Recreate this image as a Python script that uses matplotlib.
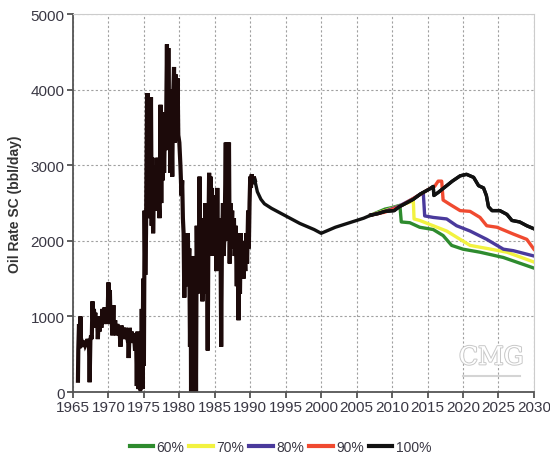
import matplotlib
matplotlib.use("Agg")
import matplotlib.pyplot as plt
import matplotlib.patheffects as pe

plt.rcParams['font.family'] = ['Liberation Sans', 'DejaVu Sans']

# Historical monthly-ish oil rate (bbl/day)
hist_years = [
    1965.70, 1965.75, 1965.85, 1965.95, 1966.05, 1966.15, 1966.30, 1966.45, 1966.60, 1966.75,
    1966.90, 1967.05, 1967.15, 1967.25, 1967.35, 1967.45, 1967.55, 1967.65, 1967.75, 1967.85,
    1967.95, 1968.05, 1968.15, 1968.25, 1968.40, 1968.50, 1968.60, 1968.75, 1968.90, 1969.00,
    1969.15, 1969.30, 1969.45, 1969.60, 1969.75, 1969.85, 1970.00, 1970.10, 1970.20, 1970.30,
    1970.45, 1970.55, 1970.70, 1970.80, 1970.95, 1971.10, 1971.25, 1971.40, 1971.55, 1971.70,
    1971.85, 1972.00, 1972.15, 1972.30, 1972.45, 1972.60, 1972.75, 1972.85, 1973.00, 1973.15,
    1973.30, 1973.45, 1973.60, 1973.75, 1973.90, 1974.00, 1974.10, 1974.20, 1974.35, 1974.50,
    1974.60, 1974.70, 1974.80, 1974.90, 1975.00, 1975.10, 1975.20, 1975.30, 1975.45, 1975.50,
    1975.55, 1975.65, 1975.75, 1975.85, 1976.00, 1976.10, 1976.20, 1976.30, 1976.45, 1976.55,
    1976.65, 1976.75, 1976.90, 1977.00, 1977.10, 1977.20, 1977.35, 1977.45, 1977.55, 1977.65,
    1977.75, 1977.85, 1978.00, 1978.10, 1978.25, 1978.35, 1978.45, 1978.55, 1978.65, 1978.75,
    1978.85, 1979.00, 1979.10, 1979.25, 1979.35, 1979.50, 1979.60, 1979.75, 1979.85, 1980.00,
    1980.15, 1980.30, 1980.40, 1980.50, 1980.60, 1980.70, 1980.80, 1980.90, 1981.00, 1981.10,
    1981.20, 1981.30, 1981.40, 1981.50, 1981.60, 1981.65, 1981.75, 1981.85, 1981.95, 1982.05,
    1982.15, 1982.25, 1982.35, 1982.45, 1982.55, 1982.65, 1982.75, 1982.85, 1982.95, 1983.05,
    1983.15, 1983.25, 1983.40, 1983.50, 1983.65, 1983.75, 1983.85, 1984.00, 1984.10, 1984.20,
    1984.30, 1984.40, 1984.50, 1984.60, 1984.70, 1984.80, 1984.95, 1985.10, 1985.20, 1985.35,
    1985.45, 1985.55, 1985.65, 1985.80, 1985.90, 1986.00, 1986.15, 1986.25, 1986.40, 1986.55,
    1986.65, 1986.75, 1986.85, 1987.00, 1987.10, 1987.20, 1987.30, 1987.45, 1987.55, 1987.70,
    1987.80, 1987.95, 1988.10, 1988.20, 1988.35, 1988.45, 1988.55, 1988.65, 1988.80, 1988.90,
    1989.05, 1989.15, 1989.30, 1989.45, 1989.55, 1989.70, 1989.80, 1989.90, 1990.00, 1990.10,
    1990.20, 1990.35, 1990.50, 1990.65,
]
hist_rate = [
    150, 560, 900, 580, 1000, 600, 650, 600, 680, 620,
    650, 700, 650, 700, 130, 680, 750, 700, 1200, 900,
    1100, 950, 1050, 850, 1000, 700, 900, 800, 1000, 850,
    1100, 900, 1120, 950, 1000, 900, 1450, 950, 1350, 900,
    1000, 750, 1150, 800, 950, 750, 900, 800, 850, 600,
    880, 750, 850, 700, 850, 760, 800, 450, 850, 700,
    800, 650, 780, 550, 750, 80, 800, 40, 100, 30,
    60, 1100, 40, 1500, 350, 2400, 1550, 2100, 3950, 2300,
    3950, 2500, 3900, 2600, 3900, 2200, 3100, 2100, 2900, 2400,
    3000, 2500, 3100, 2400, 2600, 2300, 3800, 2500, 3700, 2800,
    3600, 2900, 3700, 3200, 4600, 3300, 4550, 3400, 4000, 2900,
    3700, 2850, 3800, 4300, 3300, 4200, 3500, 4150, 3400, 3300,
    3000, 2600, 2800, 2300, 2100, 1250, 2000, 1400, 1900, 1600,
    2100, 1500, 1900, 600, 1800, 0, 1700, 0, 1500, 0,
    200, 1800, 0, 2200, 1300, 2000, 1500, 2850, 1800, 1500,
    2300, 1200, 2000, 1300, 2500, 1700, 2400, 550, 2100, 2900,
    2200, 2850, 2000, 2700, 1800, 2600, 1900, 2600, 1600, 2700,
    2000, 2300, 1700, 2100, 600, 1900, 2500, 1800, 2200, 3300,
    2000, 3300, 2400, 3300, 1700, 2500, 2000, 2400, 1900, 2300,
    1800, 2200, 1400, 2100, 950, 2000, 1300, 2100, 1600, 2000,
    1500, 1900, 1600, 2100, 1700, 2400, 1900, 2500, 2850, 2700,
    2880, 2750, 2850, 2800,
]

# Common forecast trunk (decline then recovery)
trunk_years = [1990.65, 1991.0, 1991.5, 1992.0, 1993.0, 1994.0, 1995.0, 1996.0, 1997.0,
               1998.0, 1999.0, 2000.0, 2001.0, 2002.0, 2003.0, 2004.0, 2005.0, 2006.0, 2007.0]
trunk_rate = [2800, 2650, 2550, 2490, 2430, 2380, 2330, 2280, 2230,
              2190, 2150, 2100, 2140, 2180, 2210, 2240, 2270, 2300, 2340]

# Scenario forecasts after the trunk
s60_years = [2007.0, 2008.0, 2009.0, 2010.0, 2011.1, 2011.3, 2012.5, 2013.9, 2015.8,
             2017.2, 2018.4, 2020.0, 2022.4, 2025.7, 2030.0]
s60_rate = [2340, 2380, 2420, 2440, 2470, 2250, 2240, 2180, 2150,
            2070, 1940, 1890, 1850, 1780, 1640]

s70_years = [2007.0, 2009.0, 2011.0, 2013.0, 2013.1, 2013.9, 2015.8, 2017.7, 2019.6,
             2021.0, 2023.35, 2026.2, 2030.0]
s70_rate = [2340, 2400, 2460, 2530, 2290, 2270, 2200, 2130, 2020,
            1940, 1900, 1850, 1720]

s80_years = [2007.0, 2009.0, 2011.0, 2013.0, 2014.4, 2014.6, 2015.8, 2017.7, 2019.1,
             2021.0, 2023.35, 2025.7, 2027.1, 2030.0]
s80_rate = [2340, 2390, 2460, 2560, 2640, 2330, 2310, 2290, 2200,
            2130, 2020, 1890, 1870, 1800]

s90_years = [2007.0, 2009.0, 2011.0, 2013.0, 2015.3, 2016.0, 2016.5, 2017.0, 2017.2,
             2018.2, 2019.6, 2021.0, 2022.4, 2023.35, 2024.8, 2027.1, 2029.0, 2030.0]
s90_rate = [2340, 2380, 2450, 2560, 2690, 2720, 2790, 2790, 2540,
            2480, 2400, 2390, 2310, 2200, 2180, 2090, 2020, 1890]

s100_years = [2007.0, 2008.0, 2009.0, 2010.3, 2011.0, 2012.0, 2013.0, 2014.0, 2015.35,
              2015.8, 2015.9, 2016.5, 2017.7, 2018.5, 2019.6, 2020.5, 2021.5, 2022.2,
              2022.9, 2023.3, 2023.6, 2024.1, 2025.2, 2026.2, 2026.9, 2028.0, 2029.0, 2030.0]
s100_rate = [2340, 2360, 2390, 2400, 2450, 2500, 2550, 2620, 2690,
             2720, 2600, 2640, 2730, 2790, 2860, 2880, 2840, 2730,
             2700, 2600, 2450, 2400, 2400, 2350, 2270, 2250, 2200, 2160]

scenario_labels = ['60%', '70%', '80%', '90%', '100%']
scenario_colors = ['#2e8b2e', '#f2f240', '#4a3a9c', '#f04a30', '#111111']

x_ticks = list(range(1965, 2031, 5))
y_ticks = [0, 1000, 2000, 3000, 4000, 5000]

fig = plt.figure(figsize=(5.5, 4.56), dpi=100)
ax = fig.add_axes([0.1327, 0.138, 0.838, 0.829])

ax.set_xlim(1965, 2030)
ax.set_ylim(0, 5000)

ax.grid(True, color='#a0a0a0', linestyle=(0, (2, 2)), linewidth=0.8)
ax.set_axisbelow(True)

lw = 2.4
ax.plot(hist_years, hist_rate, color='#1c0a0a', linewidth=3.0, solid_joinstyle='miter')

scen = [(s60_years, s60_rate), (s70_years, s70_rate), (s80_years, s80_rate),
        (s90_years, s90_rate), (s100_years, s100_rate)]
handles = []
for (yrs, vals), lab, col in zip(scen, scenario_labels, scenario_colors):
    h, = ax.plot(yrs, vals, color=col, linewidth=lw, label=lab)
    handles.append(h)
ax.plot(trunk_years, trunk_rate, color='#111111', linewidth=lw)
ax.plot(s100_years, s100_rate, color='#111111', linewidth=lw)

ax.set_xticks(x_ticks)
ax.set_yticks(y_ticks)
ax.tick_params(axis='both', direction='out', length=4, width=1.2, color='#444444',
               labelsize=11, labelcolor='#3a3844', pad=2)

for s in ['top', 'right']:
    ax.spines[s].set_color('#cccccc')
    ax.spines[s].set_linewidth(0.8)
for s in ['left', 'bottom']:
    ax.spines[s].set_color('#555555')
    ax.spines[s].set_linewidth(1.3)

ax.set_ylabel('Oil Rate SC (bbl/day)', fontsize=10, fontweight='bold', color='#333333', labelpad=6)

# CMG logo
ax.text(2024.0, 300, 'CMG', fontsize=18, color='white', ha='center', va='bottom',
        fontfamily='DejaVu Serif', zorder=1,
        path_effects=[pe.withStroke(linewidth=1.4, foreground='#c8c8c8')])
ax.plot([2020.0, 2028.0], [210, 210], color='#d4d4d4', linewidth=1.5, zorder=1)

leg = fig.legend(handles=handles, labels=scenario_labels, loc='center', ncol=5,
                 bbox_to_anchor=(0.51, 0.018), frameon=False, fontsize=10,
                 handlelength=1.7, handletextpad=0.25, columnspacing=0.35)
for t in leg.get_texts():
    t.set_color('#3a3844')
for l in leg.get_lines():
    l.set_linewidth(3)

fig.savefig('out.png', dpi=100)
